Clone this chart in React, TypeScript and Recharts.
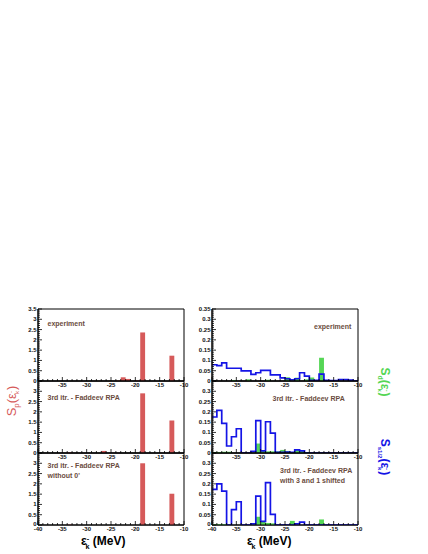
import React from "react"
import { Bar, ComposedChart, Line, ReferenceArea, XAxis, YAxis } from "recharts"

// bin edges / centres of the 1 MeV histograms
const binEdges = [
  -40, -39, -38, -37, -36, -35, -34, -33, -32, -31, -30, -29, -28, -27, -26, -25,
  -24, -23, -22, -21, -20, -19, -18, -17, -16, -15, -14, -13, -12, -11, -10,
]
const binCenters = [
  -39.5, -38.5, -37.5, -36.5, -35.5, -34.5, -33.5, -32.5, -31.5, -30.5, -29.5, -28.5, -27.5, -26.5, -25.5,
  -24.5, -23.5, -22.5, -21.5, -20.5, -19.5, -18.5, -17.5, -16.5, -15.5, -14.5, -13.5, -12.5, -11.5, -10.5,
]

// S_p, left column
const spExperiment = [0, 0, 0, 0, 0, 0, 0, 0, 0, 0, 0, 0, 0, 0, 0, 0, 0.02, 0.18, 0.1, 0, 0.03, 2.36, 0, 0, 0, 0, 0, 1.23, 0, 0]
const spFaddeev = [0, 0, 0, 0, 0, 0, 0.03, 0, 0, 0, 0, 0, 0, 0.1, 0, 0, 0, 0, 0, 0, 0, 2.9, 0, 0, 0, 0, 0, 1.58, 0, 0]
const spWithout0 = [0, 0, 0, 0, 0, 0, 0.02, 0, 0, 0, 0, 0, 0, 0, 0, 0, 0, 0, 0, 0, 0, 3.0, 0, 0, 0, 0, 0, 1.52, 0, 0]

// S_d (green bars) and S_s1/2 (blue outline), right column
const sdExperiment = [0, 0, 0, 0, 0.005, 0, 0, 0.008, 0, 0, 0, 0.006, 0, 0, 0, 0.018, 0, 0.016, 0, 0.008, 0.017, 0, 0.113, 0, 0, 0, 0, 0, 0, 0]
const ssExperiment = [
  0.079, 0.075, 0.088, 0.062, 0.062, 0.062, 0.049, 0.049, 0.032, 0.04, 0.052, 0.052, 0.03, 0.03, 0.015,
  0.011, 0.006, 0.011, 0.04, 0.024, 0.003, 0.003, 0.033, 0.003, 0.002, 0.002, 0.007, 0.007, 0.004, 0,
]
const sdFaddeev = [0.005, 0.005, 0.006, 0.006, 0, 0, 0, 0, 0, 0.046, 0.01, 0.008, 0.008, 0.008, 0.015, 0.01, 0, 0.014, 0.014, 0.004, 0, 0, 0, 0, 0, 0, 0, 0, 0, 0]
const ssFaddeev = [
  0.175, 0.207, 0.144, 0.034, 0.079, 0.118, 0, 0, 0.008, 0.157, 0.01, 0.152, 0.097, 0.003, 0.003,
  0.004, 0.003, 0.015, 0.01, 0, 0, 0, 0, 0, 0, 0, 0, 0, 0, 0,
]
const sdShifted = [0.004, 0.004, 0.004, 0, 0, 0, 0, 0, 0, 0.04, 0.02, 0.01, 0.008, 0, 0, 0, 0.02, 0, 0, 0, 0, 0, 0.027, 0, 0, 0, 0, 0, 0, 0]
const ssShifted = [
  0.173, 0.2, 0.165, 0, 0.075, 0.113, 0, 0, 0.005, 0.14, 0.018, 0.206, 0.052, 0, 0,
  0, 0, 0.005, 0.014, 0, 0, 0, 0, 0, 0, 0, 0, 0, 0, 0,
]

const leftTicks = Array.from({ length: 36 }, (_, i) => i / 10)
const rightTicks = Array.from({ length: 36 }, (_, i) => i / 100)

const RED = "#d65a5a"
const GREEN = "#55d655"
const BLUE = "#1414e6"
const NOTE = "#6b4c40"
const FONT = "Liberation Sans, Arial, sans-serif"

const PLOT_W = 146
const BIN_W = PLOT_W / binCenters.length

type Row = { x: number; bar?: number | null; step?: number | null }

const buildRows = (bars: number[], steps?: number[]) => {
  const rows: Row[] = []
  binEdges.forEach((e, i) => {
    const s = steps ? steps[Math.min(i, steps.length - 1)] : null
    rows.push({ x: e, step: s, bar: null })
    if (i < binCenters.length) rows.push({ x: binCenters[i], bar: bars[i] > 0 ? bars[i] : null, step: null })
  })
  return rows
}

// bar filling the whole 1 MeV bin, centred on the bin centre
const BinBar = (props: any) => {
  const { x, y, width, height, fill } = props
  if (!height || height <= 0) return null
  const cx = x + width / 2
  return <rect x={cx - BIN_W / 2} y={y} width={BIN_W} height={height} fill={fill} />
}

interface PanelProps {
  left: number
  top: number
  bars: number[]
  barColor: string
  steps?: number[]
  yMax: number
  yTicks: number[]
  minor: number
  showTop: boolean
  showStart: boolean
}

const Panel: React.FC<PanelProps> = ({ left, top, bars, barColor, steps, yMax, yTicks, minor, showTop, showStart }) => {
  const rows = buildRows(bars, steps)

  const yTick = (p: any) => {
    const v = p.payload.value as number
    const major = Math.round(v / minor) % 5 === 0
    const ax = p.x + 2
    const showLabel = major && (showTop || Math.abs(v - yMax) > 1e-9)
    const lift = v === 0 && showStart ? 1.5 : 0
    return (
      <g>
        <line x1={ax} x2={ax + (major ? 4 : 2)} y1={p.y} y2={p.y} stroke="#000" strokeWidth={0.8} />
        {showLabel && (
          <text x={ax - 1.5} y={p.y + 2 - lift} textAnchor="end" fontSize={6} fontWeight="bold" fill="#111" fontFamily={FONT}>
            {String(v)}
          </text>
        )}
      </g>
    )
  }

  const xTick = (p: any) => {
    const v = p.payload.value as number
    const major = v % 5 === 0
    const ay = p.y - 2
    const showLabel = major && (showStart || v !== -40)
    return (
      <g>
        <line x1={p.x} x2={p.x} y1={ay} y2={ay - (major ? 4 : 2)} stroke="#000" strokeWidth={0.8} />
        {showLabel && (
          <text x={p.x} y={ay + 6} textAnchor="middle" fontSize={6} fontWeight="bold" fill="#111" fontFamily={FONT}>
            {String(v)}
          </text>
        )}
      </g>
    )
  }

  return (
    <div style={{ position: "absolute", left, top }}>
      <ComposedChart width={38 + PLOT_W + 6} height={90} data={rows} margin={{ top: 6, right: 6, bottom: 0, left: 0 }}>
        <XAxis
          dataKey="x"
          type="number"
          domain={[-40, -10]}
          ticks={binEdges}
          interval={0}
          allowDataOverflow
          tickLine={false}
          tickSize={0}
          height={12}
          axisLine={{ stroke: "#000" }}
          tick={xTick}
        />
        <YAxis
          type="number"
          domain={[0, yMax]}
          ticks={yTicks}
          interval={0}
          allowDataOverflow
          tickLine={false}
          tickSize={0}
          width={38}
          axisLine={{ stroke: "#000" }}
          tick={yTick}
        />
        <Bar dataKey="bar" fill={barColor} shape={BinBar} isAnimationActive={false} />
        {steps && (
          <Line
            dataKey="step"
            type="stepAfter"
            stroke={BLUE}
            strokeWidth={1.7}
            dot={false}
            connectNulls
            isAnimationActive={false}
          />
        )}
        <ReferenceArea x1={-40} x2={-10} y1={0} y2={yMax} fill="none" stroke="#000" strokeWidth={1} />
      </ComposedChart>
    </div>
  )
}

const Eps: React.FC<{ size: number }> = ({ size }) => (
  <>
    <tspan>ε</tspan>
    <tspan fontSize={size * 0.6} dy={-size * 0.35}>-</tspan>
    <tspan fontSize={size * 0.6} dx={-size * 0.3} dy={size * 0.65}>k</tspan>
    <tspan dy={-size * 0.3}>{" "}</tspan>
  </>
)

const App: React.FC = () => {
  return (
    <div style={{ position: "absolute", left: 0, top: 0, width: 428, height: 554, background: "#fff", fontFamily: FONT }}>
      <Panel left={0} top={303} bars={spExperiment} barColor={RED} yMax={3.5} yTicks={leftTicks} minor={0.1} showTop showStart={false} />
      <Panel left={0} top={375} bars={spFaddeev} barColor={RED} yMax={3.5} yTicks={leftTicks} minor={0.1} showTop={false} showStart={false} />
      <Panel left={0} top={447} bars={spWithout0} barColor={RED} yMax={3.5} yTicks={leftTicks} minor={0.1} showTop={false} showStart />
      <Panel left={174} top={303} bars={sdExperiment} barColor={GREEN} steps={ssExperiment} yMax={0.35} yTicks={rightTicks} minor={0.01} showTop showStart={false} />
      <Panel left={174} top={375} bars={sdFaddeev} barColor={GREEN} steps={ssFaddeev} yMax={0.35} yTicks={rightTicks} minor={0.01} showTop={false} showStart={false} />
      <Panel left={174} top={447} bars={sdShifted} barColor={GREEN} steps={ssShifted} yMax={0.35} yTicks={rightTicks} minor={0.01} showTop={false} showStart />

      <svg width={428} height={554} style={{ position: "absolute", left: 0, top: 0, pointerEvents: "none" }} fontFamily={FONT}>
        <g fontSize={7} fontWeight="bold" fill={NOTE}>
          <text x={47.5} y={325.8}>experiment</text>
          <text x={47.5} y={399.8}>3rd itr. - Faddeev RPA</text>
          <text x={47.5} y={467.5}>3rd itr. - Faddeev RPA</text>
          <text x={47.5} y={478.2}>without 0'</text>
          <text x={314} y={329.2}>experiment</text>
          <text x={272.5} y={400.8}>3rd itr. - Faddeev RPA</text>
          <text x={280} y={472.5}>3rd itr. - Faddeev RPA</text>
          <text x={280} y={482.5}>with 3 and 1 shifted</text>
        </g>
        <g fontSize={12} fontWeight="bold" fill="#000">
          <text x={81} y={545}>
            <Eps size={12} />(MeV)
          </text>
          <text x={247} y={545}>
            <Eps size={12} />(MeV)
          </text>
        </g>
        <text transform="translate(16,401) rotate(-90)" textAnchor="middle" fontSize={13} fill={RED}>
          S<tspan fontSize={8} dy={3}>p</tspan>
          <tspan dy={-3}>(</tspan>
          <Eps size={10} />
          <tspan dx={-2.5}>)</tspan>
        </text>
        <text transform="translate(381,382) rotate(90)" textAnchor="middle" fontSize={12} fontWeight="bold" fill={GREEN}>
          S<tspan fontSize={7} dy={3}>d</tspan>
          <tspan dy={-3}>(</tspan>
          <Eps size={10} />
          <tspan dx={-2.5}>)</tspan>
        </text>
        <text transform="translate(381,457) rotate(90)" textAnchor="middle" fontSize={12} fontWeight="bold" fill={BLUE}>
          S<tspan fontSize={6} dy={3}>s1/2</tspan>
          <tspan dy={-3}>(</tspan>
          <Eps size={10} />
          <tspan dx={-2.5}>)</tspan>
        </text>
      </svg>
    </div>
  )
}

export default App
